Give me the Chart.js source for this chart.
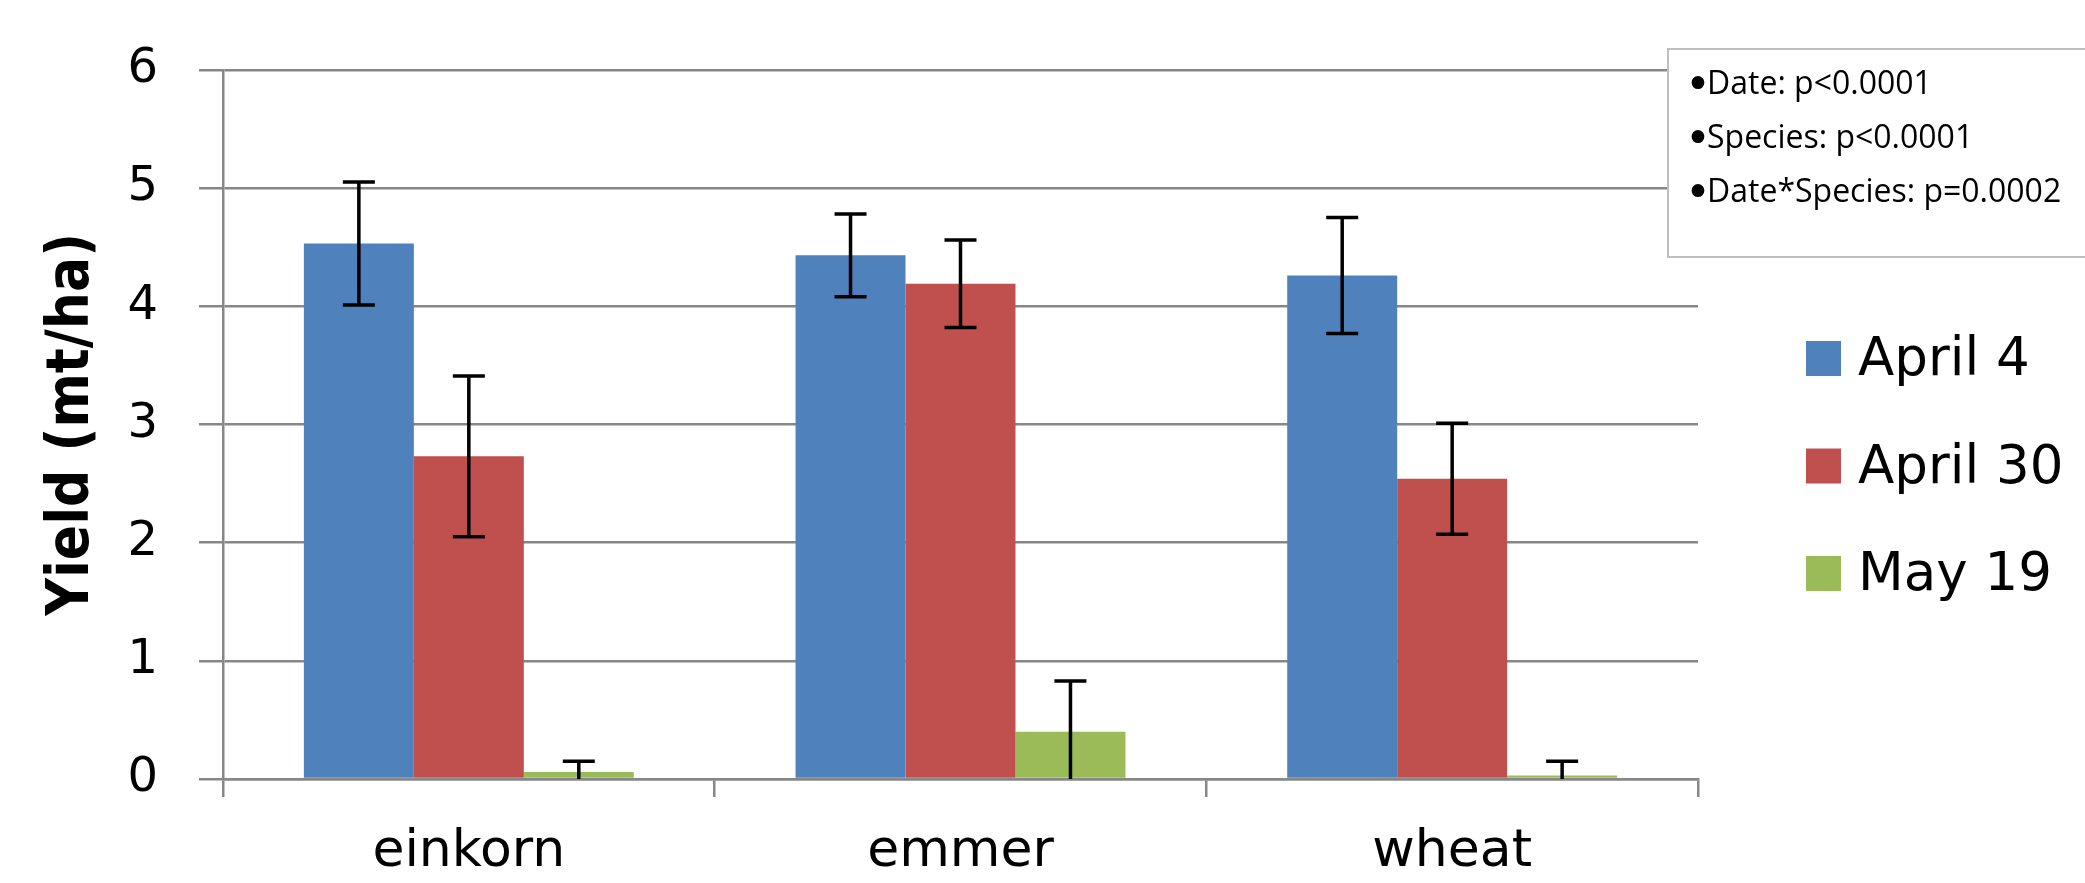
<!DOCTYPE html>
<html>
<head>
<meta charset="utf-8">
<script src="https://cdn.jsdelivr.net/npm/chart.js@4/dist/chart.umd.min.js"></script>
<style>
  html, body { margin: 0; padding: 0; background: #fff; overflow: hidden; }
  #wrap { width: 2085px; height: 883px; }
</style>
</head>
<body>
<div id="wrap"><canvas id="c" width="2085" height="883"></canvas></div>
<script>
const categories = ['einkorn', 'emmer', 'wheat'];
const seriesLabels = ['April 4', 'April 30', 'May 19'];
const april4 = [4.53, 4.43, 4.26];
const april30 = [2.73, 4.19, 2.54];
const may19 = [0.06, 0.40, 0.03];
const april4Err = [0.52, 0.35, 0.49];
const april30Err = [0.68, 0.37, 0.47];
const may19Err = [0.09, 0.43, 0.12];
const yTicks = [0, 1, 2, 3, 4, 5, 6];
const statsLines = ['•Date: p<0.0001', '•Species: p<0.0001', '•Date*Species: p=0.0002'];

const colors = ['#4F81BD', '#C0504D', '#9BBB59'];
const gridGray = '#878787';
const errs = [april4Err, april30Err, may19Err];

// error bars, drawn off the bar elements and the y scale
const errorBars = {
  id: 'errorBars',
  afterDatasetsDraw(chart) {
    const ctx = chart.ctx, y = chart.scales.y;
    ctx.save();
    ctx.strokeStyle = '#000';
    ctx.lineWidth = 3.5;
    chart.data.datasets.forEach((ds, i) => {
      chart.getDatasetMeta(i).data.forEach((bar, j) => {
        const v = ds.data[j], e = errs[i][j];
        const top = y.getPixelForValue(v + e);
        const lo = v - e;
        const bot = y.getPixelForValue(Math.max(0, lo));
        const cap = 16;
        ctx.beginPath();
        ctx.moveTo(bar.x, top); ctx.lineTo(bar.x, bot);
        ctx.moveTo(bar.x - cap, top); ctx.lineTo(bar.x + cap, top);
        if (lo > 0) { ctx.moveTo(bar.x - cap, bot); ctx.lineTo(bar.x + cap, bot); }
        ctx.stroke();
      });
    });
    ctx.restore();
  }
};

// legend on the right plus the p-value box in the corner
const sideNotes = {
  id: 'sideNotes',
  afterDraw(chart) {
    const ctx = chart.ctx, area = chart.chartArea;
    ctx.save();
    const lx = area.right + 108;
    chart.data.datasets.forEach((ds, i) => {
      const cy = 358 + i * 107.5;
      ctx.fillStyle = ds.backgroundColor;
      ctx.fillRect(lx, cy - 17, 35, 35);
      ctx.fillStyle = '#000';
      ctx.font = '53px "DejaVu Sans"';
      ctx.textBaseline = 'alphabetic';
      ctx.fillText(ds.label, lx + 52, cy + 17);
    });

    const bx = area.right - 30, by = 49;
    ctx.fillStyle = '#fff';
    ctx.fillRect(bx, by, 2085 - bx + 5, 208);
    ctx.strokeStyle = '#BFBFBF';
    ctx.lineWidth = 2;
    ctx.strokeRect(bx, by, 2085 - bx + 5, 208);
    ctx.fillStyle = '#000';
    statsLines.forEach((t, i) => {
      const base = 94 + i * 54;
      // bullet a bit bigger than the text, like the office-style one
      ctx.font = '44px "DejaVu Sans"';
      ctx.textAlign = 'center';
      ctx.fillText(t[0], bx + 30, base + 5);
      ctx.font = '32px "Open Sans"';
      ctx.textAlign = 'left';
      ctx.fillText(t.slice(1), bx + 39, base);
    });
    ctx.restore();
  }
};

new Chart(document.getElementById('c'), {
  type: 'bar',
  data: {
    labels: categories,
    datasets: [april4, april30, may19].map((d, i) => ({
      label: seriesLabels[i],
      data: d,
      backgroundColor: colors[i],
      borderWidth: 0,
      categoryPercentage: 0.671,
      barPercentage: 1.0,
    })),
  },
  options: {
    responsive: false,
    devicePixelRatio: 1,
    animation: false,
    layout: { padding: { left: 0, top: 69, right: 387, bottom: 0 } },
    plugins: { legend: { display: false }, tooltip: { enabled: false } },
    scales: {
      x: {
        offset: true,
        grid: { offset: true, drawOnChartArea: false, drawTicks: true, tickLength: 18, color: gridGray, lineWidth: 2.5 },
        border: { display: true, color: gridGray, width: 2.5 },
        ticks: { color: '#000', padding: 24, font: { family: 'DejaVu Sans', size: 52 } },
        afterFit: s => { s.height = 104; },
      },
      y: {
        min: 0, max: 6,
        afterBuildTicks: s => { s.ticks = yTicks.map(v => ({ value: v })); },
        grid: { color: gridGray, lineWidth: 2.5, tickLength: 24 },
        border: { display: true, color: gridGray, width: 2.5 },
        ticks: { color: '#000', padding: 41, font: { family: 'DejaVu Sans', size: 48 } },
        title: {
          display: true, text: 'Yield (mt/ha)', color: '#000',
          font: { family: "'Liberation Sans Narrow', 'DejaVu Sans Condensed', sans-serif", size: 58, weight: 'bold', lineHeight: 1 },
          padding: { top: 44, bottom: 0 },
        },
        afterFit: s => { s.width = 223; },
      },
    },
  },
  plugins: [errorBars, sideNotes],
});
</script>
</body>
</html>
